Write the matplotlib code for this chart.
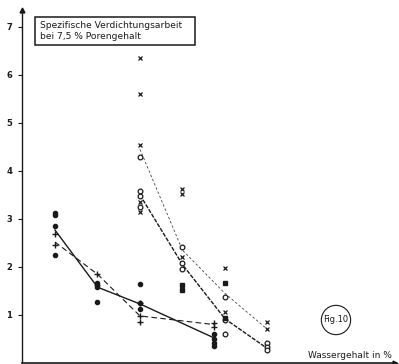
import matplotlib
matplotlib.use("Agg")
import matplotlib.pyplot as plt
from matplotlib.patches import Rectangle

# Wassergehalt (%) positions of the measuring groups
x_low = [4, 5, 6, 7.75]
x_high = [6, 7, 8, 9]

# series with filled dots, solid mean line
dot_x = [4, 4, 4, 4, 5, 5, 5, 6, 6, 6, 7.75, 7.75, 7.75, 7.75]
dot_y = [3.08, 3.12, 2.85, 2.25, 1.67, 1.58, 1.27, 1.65, 1.25, 1.12, 0.6, 0.5, 0.42, 0.35]
dot_line = [2.77, 1.58, 1.23, 0.52]

# series with +, dashed mean line
plus_x = [4, 4, 5, 5, 6, 6, 6, 7.75, 7.75]
plus_y = [2.68, 2.45, 1.85, 1.62, 1.25, 0.97, 0.86, 0.83, 0.75]
plus_line = [2.52, 1.85, 0.98, 0.8]

# series with open circles, heavy dashed mean line
circ_x = [6, 6, 6, 6, 7, 7, 7, 8, 8, 8, 9, 9, 9]
circ_y = [4.3, 3.58, 3.47, 3.25, 2.42, 2.08, 1.96, 1.38, 0.9, 0.6, 0.42, 0.33, 0.27]
circ_line = [3.5, 2.05, 0.92, 0.3]

# series with crosses, thin dashed mean line
cross_x = [6, 6, 6, 6, 6, 7, 7, 7, 8, 8, 9, 9]
cross_y = [6.35, 5.6, 4.55, 3.36, 3.14, 3.62, 3.52, 2.2, 1.98, 1.06, 0.85, 0.7]
cross_line = [4.45, 2.35, 1.45, 0.7]

# filled squares
sq_x = [7, 7, 8, 8]
sq_y = [1.63, 1.52, 1.66, 0.93]

y_ticks = [1, 2, 3, 4, 5, 6, 7]

ink = "#1a1a1a"

fig = plt.figure(figsize=(3.99, 3.64), dpi=100)
ax = fig.add_axes([22 / 399, 1 / 364, 373 / 399, 353 / 364])
ax.set_xlim(3.224, 12.0)
ax.set_ylim(0, 7.354)

# mean lines
ax.plot(x_low, dot_line, color=ink, lw=1.0, ls="-")
ax.plot(x_low, plus_line, color=ink, lw=0.8, ls=(0, (5, 3)))
ax.plot(x_high, circ_line, color=ink, lw=1.0, ls=(0, (3, 1)))
ax.plot(x_high, cross_line, color="#444444", lw=0.6, ls=(0, (3, 2.5)))

# measured points
ax.plot(dot_x, dot_y, "o", color=ink, ms=3, mec=ink)
ax.plot(plus_x, plus_y, "+", color=ink, ms=4.2, mew=1.0)
ax.plot(circ_x, circ_y, "o", mfc="white", mec=ink, ms=3.4, mew=0.9)
ax.plot(cross_x, cross_y, "x", color=ink, ms=3.2, mew=0.9)
ax.plot(sq_x, sq_y, "s", color=ink, ms=3)

# axes styled like the drawn original
for s in ["top", "right"]:
    ax.spines[s].set_visible(False)
ax.spines["left"].set_color(ink)
ax.spines["bottom"].set_color(ink)
ax.spines["left"].set_linewidth(1.0)
ax.spines["bottom"].set_linewidth(1.2)
ax.set_xticks([])
ax.set_yticks(y_ticks)
ax.set_yticklabels([str(t) for t in y_ticks], fontsize=6, fontweight="bold", color=ink)
ax.tick_params(axis="y", direction="out", length=3, width=0.8, pad=4, colors=ink)
ax.plot(0, 1, "^", color=ink, ms=3.5, transform=ax.transAxes, clip_on=False)
ax.plot(1, 0, ">", color=ink, ms=3.5, transform=ax.transAxes, clip_on=False)

# title box, drawn as in the original sheet
fig.add_artist(Rectangle((35 / 399, 1 - 45 / 364), 160 / 399, 28 / 364,
                         transform=fig.transFigure, fc="white", ec=ink, lw=1.1))
fig.text(40 / 399, 1 - 31 / 364, "Spezifische Verdichtungsarbeit\nbei 7,5 % Porengehalt",
         fontsize=6.6, color=ink, va="center", ha="left", linespacing=1.35)

fig.text(336 / 399, 1 - 320 / 364, "Fig.10", fontsize=6, color=ink, ha="center", va="center",
         bbox=dict(boxstyle="circle,pad=0.25", fc="white", ec=ink, lw=0.8))

fig.text(392 / 399, 1 - 355 / 364, "Wassergehalt in %", fontsize=6.5, color=ink,
         ha="right", va="center")

fig.savefig("out.png", dpi=100)
